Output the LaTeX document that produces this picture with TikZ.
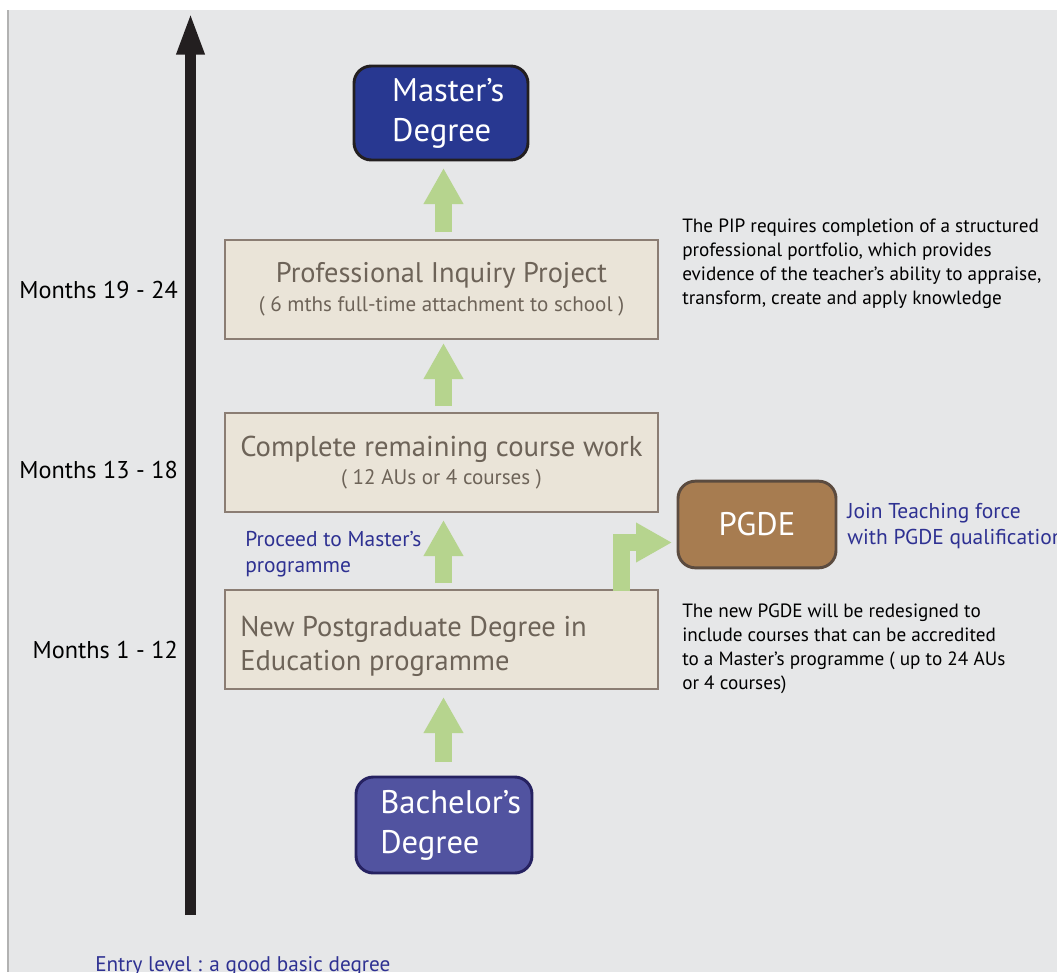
\documentclass[tikz,border=0pt]{standalone}
\usepackage{fontspec}
\setmainfont{PT Sans}
\usetikzlibrary{arrows.meta}
\definecolor{bg}{HTML}{E6E7E8}
\definecolor{boxfill}{HTML}{EAE4D8}
\definecolor{boxline}{HTML}{8B7D73}
\definecolor{boxtext}{HTML}{6D6358}
\definecolor{flow}{HTML}{B6D48E}
\definecolor{bluetext}{HTML}{2E3192}
\definecolor{masterfill}{HTML}{283891}
\definecolor{masterline}{HTML}{231F20}
\definecolor{bachfill}{HTML}{5153A0}
\definecolor{bachline}{HTML}{262261}
\definecolor{pgdefill}{HTML}{A77C50}
\definecolor{pgdeline}{HTML}{5B4B3F}
\tikzset{
  stagebox/.style={draw=boxline, fill=boxfill, line width=1.5pt, minimum width=324.75pt, minimum height=74.25pt, text=boxtext, inner sep=0pt},
  degreebox/.style={rounded corners=13pt, line width=2.2pt, text=white, align=left, inner sep=0pt, font=\fontsize{24.5}{30}\selectfont},
  flowarrow/.style={draw=flow, line width=12.75pt, -{Triangle[width=28pt,length=27pt]}},
  monthlabel/.style={anchor=east, font=\fontsize{18.2}{22}\selectfont, inner sep=0pt},
  note/.style={anchor=north west, align=left, inner sep=0pt, font=\fontsize{14.4}{18}\selectfont},
  bluenote/.style={anchor=north west, align=left, inner sep=0pt, text=bluetext, font=\fontsize{16.1}{19.5}\selectfont}
}
\begin{document}
\begin{tikzpicture}[x=0.75pt,y=-0.75pt]
\useasboundingbox (0,0) rectangle (1057,972);
\fill[white] (0,0) rectangle (1057,972);
\fill[bg] (8,10) rectangle (1057,972);
\draw[line width=1.5pt, draw=black!30] (8,10) -- (8,972);

% time axis
\coordinate (axisbot) at (190.5,915);
\coordinate (axistop) at (190.5,12);
\draw[line width=8.25pt, draw=masterline, -{Triangle[width=19pt,length=32pt]}] (axisbot) -- (axistop);

% month labels
\node[monthlabel] (m3) at (178,290) {Months 19 - 24};
\node[monthlabel] (m2) at (178,470) {Months 13 - 18};
\node[monthlabel] (m1) at (178,650) {Months 1 - 12};

% degree boxes
\node[degreebox, draw=masterline, fill=masterfill, minimum width=130.5pt, minimum height=70.5pt] (master) at (441,113) {\hspace*{11pt}Master’s\\\hspace*{11pt}Degree};
\node[degreebox, draw=bachline, fill=bachfill, minimum width=132pt, minimum height=72pt] (bach) at (444,825) {\hspace*{10pt}Bachelor’s\\\hspace*{10pt}Degree};
\node[degreebox, draw=pgdeline, fill=pgdefill, minimum width=118.5pt, minimum height=65pt, align=center] (pgde) at (757,524.5) {PGDE};

% stage boxes
\node[stagebox, align=center] (pip) at (441.5,289) {{\fontsize{21.3}{24}\selectfont Professional Inquiry Project}\\[5pt]{\fontsize{15.8}{18}\selectfont ( 6 mths full-time attachment to school )}};
\node[stagebox, align=center] (course) at (441.5,462.5) {{\fontsize{21.5}{24}\selectfont Complete remaining course work}\\[4pt]{\fontsize{15.8}{18}\selectfont ( 12 AUs or 4 courses )}};
\node[stagebox] (newpgde) at (441.5,639.5) {};
\node[anchor=west, align=left, inner sep=0pt, text=boxtext, font=\fontsize{21.4}{25.5}\selectfont] (newpgdetext) at (240,646) {New Postgraduate Degree in\\Education programme};

% flow arrows
\coordinate (a1s) at (443.5,762);
\coordinate (a1e) at (443.5,697);
\coordinate (a2s) at (443.5,583);
\coordinate (a2e) at (443.5,520);
\coordinate (a3s) at (443.5,406);
\coordinate (a3e) at (443.5,343);
\coordinate (a4s) at (443.5,232);
\coordinate (a4e) at (443.5,168);
\draw[flowarrow] (a1s) -- (a1e);
\draw[flowarrow] (a2s) -- (a2e);
\draw[flowarrow] (a3s) -- (a3e);
\draw[flowarrow] (a4s) -- (a4e);
\coordinate (lstart) at (621.5,591);
\coordinate (lend) at (672,542.5);
\draw[flowarrow] (lstart) |- (lend);

% notes
\node[note] (pipnote) at (682,219) {The PIP requires completion of a structured\\professional portfolio, which provides\\evidence of the teacher’s ability to appraise,\\transform, create and apply knowledge};
\node[note] (pgdenote) at (682,604) {The new PGDE will be redesigned to\\include courses that can be accredited\\to a Master’s programme ( up to 24 AUs\\or 4 courses)};
\node[bluenote] (join) at (847,503) {Join Teaching force\\with PGDE qualification};
\node[bluenote] (proceed) at (245,531) {Proceed to Master’s\\programme};
\node[anchor=base west, inner sep=0pt, text=bluetext, font=\fontsize{15.9}{18}\selectfont] (entry) at (95,971) {Entry level : a good basic degree};
\end{tikzpicture}
\end{document}
